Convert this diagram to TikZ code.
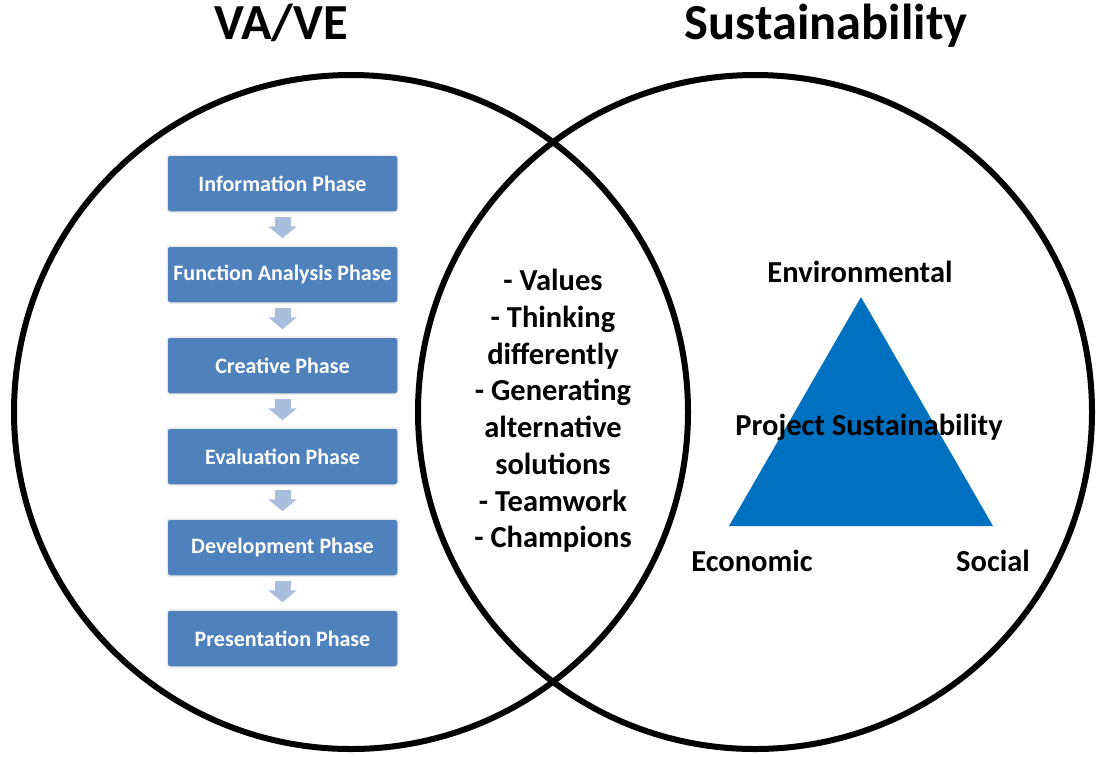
\documentclass[tikz,border=0pt]{standalone}
\usepackage{fontspec}
\setmainfont{Carlito}
\usetikzlibrary{calc,arrows.meta}
\definecolor{boxblue}{HTML}{4F81BD}
\definecolor{arrblue}{HTML}{A9BDDC}
\definecolor{triblue}{HTML}{0070C0}
\tikzset{
  phase/.style={draw=black!8, line width=1.5pt, fill=boxblue, rounded corners=3pt,
    minimum width=231pt, minimum height=57pt, inner sep=0pt,
    text=white, font=\bfseries\fontsize{22}{26}\selectfont},
  flowarr/.style={arrblue, line width=16pt,
    -{Triangle[width=28pt,length=12pt]}},
  ring/.style={line width=6pt, black},
  lbl/.style={font=\bfseries\fontsize{30.5}{36}\selectfont, inner sep=0pt, anchor=base},
  title/.style={font=\bfseries\fontsize{50.5}{58}\selectfont, inner sep=0pt, anchor=base},
}
\begin{document}
\begin{tikzpicture}[x=1pt,y=-1pt]
\useasboundingbox (0,0) rectangle (1097,756);
\fill[white] (0,0) rectangle (1097,756);
% circles
\draw[ring] (351,412) circle[radius=337pt];
\draw[ring] (755,412) circle[radius=337pt];
% titles
\node[title] (tl) at (281,39) {VA/VE};
\node[title] (tr) at (826,39) {Sustainability};
% phases
\node[phase] (p1) at (282.5,183.5) {Information Phase};
\node[phase] (p2) at (282.5,274.5) {Function Analysis Phase};
\node[phase] (p3) at (282.5,365.5) {Creative Phase};
\node[phase] (p4) at (282.5,456.5) {Evaluation Phase};
\node[phase] (p5) at (282.5,547.5) {Development Phase};
\node[phase] (p6) at (282.5,638.5) {Presentation Phase};
\foreach \a/\b in {p1/p2,p2/p3,p3/p4,p4/p5,p5/p6}
  \draw[flowarr] ($(\a.south)+(0,4)$) -- ($(\b.north)+(0,-7)$);
% middle text
\node[font=\bfseries\fontsize{30.5}{36.7}\selectfont, align=center, inner sep=0pt] (mid) at (553,411)
  {- Values\\- Thinking\\differently\\- Generating\\alternative\\solutions\\- Teamwork\\- Champions};
% triangle
\coordinate (tA) at (861,297);
\coordinate (tB) at (729,526);
\coordinate (tC) at (993,526);
\fill[triblue] (tA) -- (tB) -- (tC) -- cycle;
\node[lbl] (env) at (860,282) {Environmental};
\node[lbl] (ps) at (869,435) {Project Sustainability};
\node[lbl] (eco) at (752,571) {Economic};
\node[lbl] (soc) at (993,571) {Social};
\end{tikzpicture}
\end{document}
